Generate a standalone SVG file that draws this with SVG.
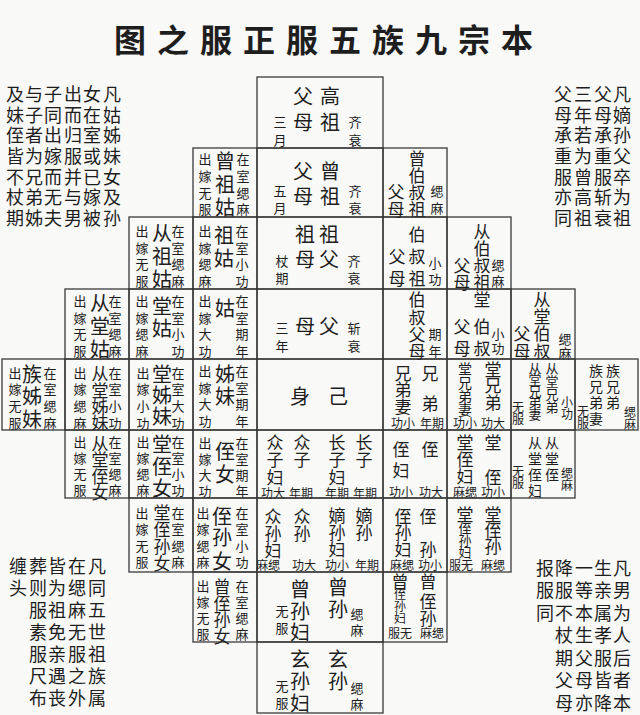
<svg xmlns="http://www.w3.org/2000/svg" width="640" height="715" viewBox="0 0 640 715">
<style>
text{font-family:"Noto Sans CJK SC","Noto Sans CJK TC",sans-serif;fill:#1e1e1e;text-anchor:middle;dominant-baseline:central}
.b{font-size:20px}
.m{font-size:17px}
.n{font-size:14px}
.s{font-size:13px}
.x{font-size:12px}
.k{font-size:18px}
.h{font-size:32px;font-weight:bold}
rect.c{fill:none;stroke:#3a3a3a;stroke-width:1.3}
</style>
<rect width="640" height="715" fill="#f9f9f8"/>
<g id="title"><text class="h" x="130 173 216 259 302 345 388 431 474 517" y="38">图之服正服五族九宗本</text></g>
<g id="note-left-top">
<text class="k" x="15 15 15 15 15 15 15" y="93 114 134 155 176 196 217">及妹侄皆不杖期</text>
<text class="k" x="34 34 34 34 34 34 34" y="93 114 134 155 176 196 217">与子者为兄弟姊</text>
<text class="k" x="53 53 53 53 53 53 53" y="93 114 134 155 176 196 217">子同出嫁而无夫</text>
<text class="k" x="73 73 73 73 73 73 73" y="93 114 134 155 176 196 217">出而归服并与男</text>
<text class="k" x="92 92 92 92 92 92 92" y="93 114 134 155 176 196 217">女在室或已嫁被</text>
<text class="k" x="112 112 112 112 112 112 112" y="93 114 134 155 176 196 217">凡姑姊妹女及孙</text>
</g>
<g id="note-right-top">
<text class="k" x="563 563 563 563 563 563 563" y="93 114 134 155 176 196 217">父母承重服亦同</text>
<text class="k" x="583 583 583 583 583 583 583" y="93 114 134 155 176 196 217">三年若为曾高祖</text>
<text class="k" x="603 603 603 603 603 603 603" y="93 114 134 155 176 196 217">父母承重服斩衰</text>
<text class="k" x="622 622 622 622 622 622 622" y="93 114 134 155 176 196 217">凡嫡孙父卒为祖</text>
</g>
<g id="note-left-bottom">
<text class="k" x="18 18" y="565 587">缠头</text>
<text class="k" x="38 38 38 38 38 38 38" y="565 587 609 631 653 675 697">葬则服素服尺布</text>
<text class="k" x="57 57 57 57 57 57 57" y="565 587 609 631 653 675 697">皆为祖免亲遇丧</text>
<text class="k" x="77 77 77 77 77 77 77" y="565 587 609 631 653 675 697">在缌麻无服之外</text>
<text class="k" x="97 97 97 97 97 97 97" y="565 587 609 631 653 675 697">凡同五世祖族属</text>
</g>
<g id="note-right-bottom">
<text class="k" x="545 545 545" y="567 589 612">报服同</text>
<text class="k" x="564 564 564 564 564 564 564" y="567 589 612 634 657 679 702">降服不杖期父母</text>
<text class="k" x="584 584 584 584 584 584 584" y="567 589 612 634 657 679 702">一等本生父母亦</text>
<text class="k" x="603 603 603 603 603 603 603" y="567 589 612 634 657 679 702">生亲属孝服皆降</text>
<text class="k" x="622 622 622 622 622 622 622" y="567 589 612 634 657 679 702">凡男为人后者本</text>
</g>
<g id="connectors"></g>
<g id="gaozu-fumu"><rect class="c" x="257" y="77" width="126" height="71"/>
<text class="s" x="280 280" y="121 139">三月</text>
<text class="b" x="303 303" y="95 121">父母</text>
<text class="b" x="330 330" y="95 121">高祖</text>
<text class="s" x="355 355" y="121 139">齐衰</text></g>
<g id="zengzu-fumu"><rect class="c" x="257" y="148" width="126" height="69"/>
<text class="s" x="280 280" y="190 207">五月</text>
<text class="b" x="303 303" y="170 195">父母</text>
<text class="b" x="330 330" y="170 195">曾祖</text>
<text class="s" x="355 355" y="190 207">齐衰</text></g>
<g id="zengzugu"><rect class="c" x="193" y="148" width="64" height="69"/>
<text class="s" x="205 205 205 205" y="158 175 192 208">出嫁无服</text>
<text class="b" x="225 225 225" y="160 183 206">曾祖姑</text>
<text class="s" x="243 243 243 243" y="158 175 192 208">在室缌麻</text></g>
<g id="zeng-boshuzu"><rect class="c" x="383" y="148" width="64" height="69"/>
<text class="m" x="396 396" y="190 208">父母</text>
<text class="m" x="417 417 417 417" y="157 174 191 208">曾伯叔祖</text>
<text class="s" x="437 437" y="190 207">缌麻</text></g>
<g id="congzugu"><rect class="c" x="129" y="217" width="64" height="72"/>
<text class="s" x="142 142 142 142" y="230 247 263 280">出嫁无服</text>
<text class="b" x="162 162 162" y="232 255 278">从祖姑</text>
<text class="s" x="178 178 178 178" y="230 247 263 280">在室缌麻</text></g>
<g id="zugu"><rect class="c" x="193" y="217" width="64" height="72"/>
<text class="s" x="205 205 205 205" y="230 247 263 280">出嫁缌麻</text>
<text class="b" x="224 224" y="234 257">祖姑</text>
<text class="s" x="242 242 242 242" y="230 247 263 280">在室小功</text></g>
<g id="zu-fumu"><rect class="c" x="257" y="217" width="126" height="72"/>
<text class="s" x="282 282" y="260 277">杖期</text>
<text class="b" x="305 305" y="233 258">祖母</text>
<text class="b" x="329 329" y="233 258">祖父</text>
<text class="s" x="354 354" y="260 277">齐衰</text></g>
<g id="boshuzu-fumu"><rect class="c" x="383" y="217" width="64" height="72"/>
<text class="m" x="397 397" y="255 277">父母</text>
<text class="m" x="417 417 417" y="233 255 277">伯叔祖</text>
<text class="s" x="435 435" y="262 278">小功</text></g>
<g id="cong-boshuzu-fumu"><rect class="c" x="447" y="217" width="64" height="72"/>
<text class="m" x="462 462" y="264 281">父母</text>
<text class="m" x="482 482 482 482" y="230 247 264 281">从伯叔祖</text>
<text class="s" x="498 498" y="264 280">缌麻</text></g>
<g id="congtanggu"><rect class="c" x="65" y="289" width="64" height="70"/>
<text class="s" x="80 80 80 80" y="300 317 333 350">出嫁无服</text>
<text class="b" x="100 100 100" y="302 325 348">从堂姑</text>
<text class="s" x="115 115 115 115" y="300 317 333 350">在室缌麻</text></g>
<g id="tanggu"><rect class="c" x="129" y="289" width="64" height="70"/>
<text class="s" x="142 142 142 142" y="300 317 333 350">出嫁缌麻</text>
<text class="b" x="162 162" y="305 327">堂姑</text>
<text class="s" x="178 178 178 178" y="300 317 333 350">在室小功</text></g>
<g id="gu"><rect class="c" x="193" y="289" width="64" height="70"/>
<text class="s" x="205 205 205 205" y="300 317 333 350">出嫁大功</text>
<text class="b" x="225" y="307">姑</text>
<text class="s" x="242 242 242 242" y="300 317 333 350">在室期年</text></g>
<g id="fumu"><rect class="c" x="257" y="289" width="126" height="70"/>
<text class="s" x="282 282" y="327 345">三年</text>
<text class="b" x="305" y="325">母</text>
<text class="b" x="329" y="325">父</text>
<text class="s" x="354 354" y="327 345">斩衰</text></g>
<g id="boshu-fumu"><rect class="c" x="383" y="289" width="64" height="70"/>
<text class="m" x="417 417 417 417" y="298 316 333 350">伯叔父母</text>
<text class="s" x="435 435" y="333 350">期年</text></g>
<g id="tang-boshu-fumu"><rect class="c" x="447" y="289" width="64" height="70"/>
<text class="m" x="462 462" y="325 347">父母</text>
<text class="m" x="482 482 482" y="298 325 347">堂伯叔</text>
<text class="s" x="498 498" y="333 347">小功</text></g>
<g id="congtang-boshu-fumu"><rect class="c" x="511" y="289" width="64" height="70"/>
<text class="m" x="522 522" y="332 350">父母</text>
<text class="m" x="542 542 542 542" y="298 315 332 350">从堂伯叔</text>
<text class="s" x="565 565" y="338 352">缌麻</text></g>
<g id="zuzimei"><rect class="c" x="2" y="359" width="63" height="71"/>
<text class="s" x="15 15 15 15" y="372 388 405 422">出嫁无服</text>
<text class="b" x="32 32 32" y="373 395 418">族姊妹</text>
<text class="s" x="50 50 50 50" y="372 388 405 422">在室缌麻</text></g>
<g id="congtang-zimei"><rect class="c" x="65" y="359" width="64" height="71"/>
<text class="s" x="80 80 80 80" y="372 388 405 422">出嫁缌麻</text>
<text class="m" x="100 100 100 100" y="372 389 405 421">从堂姊妹</text>
<text class="s" x="115 115 115 115" y="372 388 405 422">在室小功</text></g>
<g id="tang-zimei"><rect class="c" x="129" y="359" width="64" height="71"/>
<text class="s" x="143 143 143 143" y="372 388 405 422">出嫁小功</text>
<text class="b" x="162 162 162" y="373 394 415">堂姊妹</text>
<text class="s" x="178 178 178 178" y="372 388 405 422">在室大功</text></g>
<g id="zimei"><rect class="c" x="193" y="359" width="64" height="71"/>
<text class="s" x="205 205 205 205" y="370 387 403 420">出嫁大功</text>
<text class="b" x="225 225" y="373 395">姊妹</text>
<text class="s" x="242 242 242 242" y="370 387 403 420">在室期年</text></g>
<g id="shenji"><rect class="c" x="257" y="359" width="126" height="71"/>
<text class="b" x="300" y="395">身</text>
<text class="b" x="338" y="395">己</text></g>
<g id="xiongdi"><rect class="c" x="383" y="359" width="64" height="71"/>
<text class="m" x="403 403 403 397 409" y="372 388 405 422 422">兄弟妻<tspan class="x">功小</tspan></text>
<text class="m" x="430 430 426 438" y="372 402 422 422">兄弟<tspan class="x">年期</tspan></text></g>
<g id="tang-xiongdi"><rect class="c" x="447" y="359" width="64" height="71"/>
<text class="n" x="465 465 465 465 459 471" y="368 382 396 409 422 422">堂兄弟妻<tspan class="x">功小</tspan></text>
<text class="m" x="493 493 493 487 499" y="368 384 401 422 422">堂兄弟<tspan class="x">功大</tspan></text></g>
<g id="congtang-xiongdi"><rect class="c" x="511" y="359" width="64" height="71"/>
<text class="x" x="518 518" y="406 418">无服</text>
<text class="s" x="535 535 535 535 535" y="367 378 390 401 413">从堂兄弟妻</text>
<text class="s" x="552 552 552 552" y="367 380 393 406">从堂兄弟</text>
<text class="x" x="567 567" y="401 413">小功</text></g>
<g id="zu-xiongdi"><rect class="c" x="575" y="359" width="63" height="71"/>
<text class="x" x="583 583" y="410 422">无服</text>
<text class="n" x="596 596 596 596" y="370 386 402 418">族兄弟妻</text>
<text class="n" x="613 613 613" y="370 386 402">族兄弟</text>
<text class="x" x="630 630" y="411 423">缌麻</text></g>
<g id="congtang-zhinv"><rect class="c" x="65" y="430" width="64" height="68"/>
<text class="s" x="80 80 80 80" y="441 457 473 489">出嫁无服</text>
<text class="m" x="100 100 100 100" y="442 458 475 491">从堂侄女</text>
<text class="s" x="115 115 115 115" y="441 457 473 489">在室缌麻</text></g>
<g id="tang-zhinv"><rect class="c" x="129" y="430" width="64" height="68"/>
<text class="s" x="143 143 143 143" y="441 457 473 489">出嫁缌麻</text>
<text class="b" x="162 162 162" y="443 465 487">堂侄女</text>
<text class="s" x="178 178 178 178" y="441 457 473 489">在室小功</text></g>
<g id="zhinv"><rect class="c" x="193" y="430" width="64" height="68"/>
<text class="s" x="205 205 205 205" y="442 458 474 490">出嫁大功</text>
<text class="b" x="225 225" y="450 473">侄女</text>
<text class="s" x="242 242 242 242" y="442 458 474 490">在室期年</text></g>
<g id="zhongzi-zhangzi"><rect class="c" x="257" y="430" width="126" height="68"/>
<text class="m" x="275 275 275 267 279" y="441 458 476 492 492">众子妇<tspan class="x">功大</tspan></text>
<text class="m" x="302 302 295 307" y="441 458 492 492">众子<tspan class="x">年期</tspan></text>
<text class="m" x="337 337 337 331 343" y="441 458 476 492 492">长子妇<tspan class="x">年期</tspan></text>
<text class="m" x="364 364 359 371" y="441 458 492 492">长子<tspan class="x">年期</tspan></text></g>
<g id="zhi"><rect class="c" x="383" y="430" width="64" height="68"/>
<text class="m" x="401 401 395 407" y="448 469 491 491">侄妇<tspan class="x">功小</tspan></text>
<text class="m" x="430 425 437" y="448 491 491">侄<tspan class="x">功大</tspan></text></g>
<g id="tang-zhi"><rect class="c" x="447" y="430" width="64" height="68"/>
<text class="m" x="465 465 465 459 471" y="441 458 475 491 491">堂侄妇<tspan class="x">麻缌</tspan></text>
<text class="m" x="493 493 487 499" y="441 476 491 491">堂侄<tspan class="x">功小</tspan></text></g>
<g id="congtang-zhi"><rect class="c" x="511" y="430" width="64" height="68"/>
<text class="x" x="518 518" y="470 482">无服</text>
<text class="n" x="535 535 535 535" y="442 458 474 490">从堂侄妇</text>
<text class="n" x="552 552 552" y="442 458 474">从堂侄</text>
<text class="x" x="567 567" y="472 484">缌麻</text></g>
<g id="tang-zhisunnv"><rect class="c" x="129" y="498" width="64" height="74"/>
<text class="s" x="142 142 142 142" y="512 528 545 561">出嫁无服</text>
<text class="m" x="162 162 162 162" y="511 528 545 562">堂侄孙女</text>
<text class="s" x="178 178 178 178" y="512 528 545 561">在室缌麻</text></g>
<g id="zhisunnv"><rect class="c" x="193" y="498" width="64" height="74"/>
<text class="s" x="203 203 203 203" y="512 528 545 561">出嫁缌麻</text>
<text class="b" x="222 222 222" y="515 536 560">侄孙女</text>
<text class="s" x="242 242 242 242" y="512 528 545 561">在室小功</text></g>
<g id="zhongsun-disun"><rect class="c" x="257" y="498" width="126" height="74"/>
<text class="m" x="273 273 273 262 274" y="515 532 549 564 564">众孙妇<tspan class="x">麻缌</tspan></text>
<text class="m" x="302 302 298 310" y="515 532 564 564">众孙<tspan class="x">功大</tspan></text>
<text class="m" x="337 337 337 331 343" y="514 531 548 564 564">嫡孙妇<tspan class="x">功小</tspan></text>
<text class="m" x="364 364 361 373" y="514 531 564 564">嫡孙<tspan class="x">年期</tspan></text></g>
<g id="zhisun"><rect class="c" x="383" y="498" width="64" height="74"/>
<text class="m" x="403 403 403 396 408" y="515 531 548 564 564">侄孙妇<tspan class="x">麻缌</tspan></text>
<text class="m" x="428 428 424 436" y="515 548 564 564">侄孙<tspan class="x">功小</tspan></text></g>
<g id="tang-zhisun"><rect class="c" x="447" y="498" width="64" height="74"/>
<text class="m" x="465 465 465 465 455 467" y="513 527 539 551 564 564">堂<tspan class="s">侄孙妇</tspan><tspan class="x">服无</tspan></text>
<text class="m" x="493 493 493 487 499" y="513 529 545 564 564">堂侄孙<tspan class="x">麻缌</tspan></text></g>
<g id="zeng-zhisunnv"><rect class="c" x="193" y="572" width="64" height="70"/>
<text class="s" x="203 203 203 203" y="585 601 617 633">出嫁无服</text>
<text class="m" x="222 222 222 222" y="585 602 618 635">曾侄孙女</text>
<text class="s" x="242 242 242 242" y="585 601 617 633">在室缌麻</text></g>
<g id="zengsun"><rect class="c" x="257" y="572" width="126" height="70"/>
<text class="s" x="282 282" y="610 627">无服</text>
<text class="b" x="300 300 300" y="588 610 631">曾孙妇</text>
<text class="b" x="338 338" y="586 608">曾孙</text>
<text class="s" x="357 357" y="613 629">缌麻</text></g>
<g id="zeng-zhisun"><rect class="c" x="383" y="572" width="64" height="70"/>
<text class="m" x="400 400 400 400 394 406" y="580 593 605 617 632 632">曾<tspan class="x">侄孙妇</tspan><tspan class="x">服无</tspan></text>
<text class="m" x="428 428 428 426 438" y="580 600 617 632 632">曾侄孙<tspan class="x">麻缌</tspan></text></g>
<g id="xuansun"><rect class="c" x="257" y="642" width="126" height="71"/>
<text class="s" x="282 282" y="685 702">无服</text>
<text class="b" x="300 300 300" y="658 680 702">玄孙妇</text>
<text class="b" x="338 338" y="658 680">玄孙</text>
<text class="s" x="357 357" y="687 703">缌麻</text></g>
</svg>
